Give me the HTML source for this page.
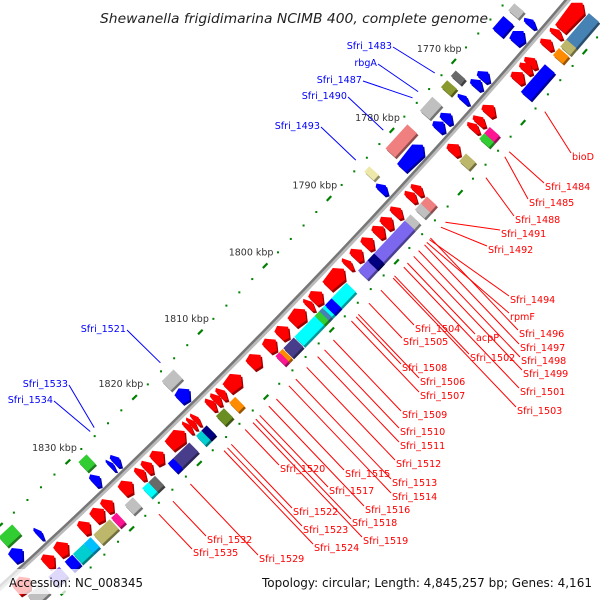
<!DOCTYPE html>
<html><head><meta charset="utf-8"><style>
html,body{margin:0;padding:0;background:#fff;width:600px;height:600px;overflow:hidden;}
svg{display:block;overflow:hidden;}
text{font-family:"DejaVu Sans","Liberation Sans",sans-serif;}
</style></head><body>
<svg id="map" width="600" height="600" viewBox="0 0 600 600" xmlns="http://www.w3.org/2000/svg">
<defs><clipPath id="frame"><rect x="0" y="0" width="600" height="600"/></clipPath></defs>
<g clip-path="url(#frame)">
<g id="rings"></g>
<g id="genes"></g>
<g id="backbone"></g>
<g id="ticklabels"></g>
<g id="labels"></g>
<text x="488" y="23" text-anchor="end" font-size="13" font-style="italic" fill="#222" textLength="388" lengthAdjust="spacingAndGlyphs">Shewanella frigidimarina NCIMB 400, complete genome</text>
<rect x="0" y="569" width="600" height="25" fill="#fff" opacity="0.75"/>
<text x="9" y="587" font-size="12" fill="#111" textLength="134" lengthAdjust="spacingAndGlyphs">Accession: NC_008345</text>
<text x="262" y="587" font-size="12" fill="#111" textLength="330" lengthAdjust="spacingAndGlyphs">Topology: circular; Length: 4,845,257 bp; Genes: 4,161</text>
</g>
</svg>
<script>
// ---- data ----
const tickKbp = [1770,1780,1790,1800,1810,1820,1830];
const tickLabels = ["1770 kbp","1780 kbp","1790 kbp","1800 kbp","1810 kbp","1820 kbp","1830 kbp"];
const redInStart = [1756.2,1760.0,1761.4,1764.0,1764.8,1766.0,1770.7,1772.4,1773.4,1776.3,1782.3,1783.3,1785.5,1786.9,1788.2,1789.9,1791.6,1793.3,1794.4,1797.8,1799.3,1800.4,1803.0,1804.9,1807.2,1810.2,1812.6,1813.4,1814.2,1816.6,1817.2,1817.8,1818.7,1821.9,1823.6,1824.7,1826.5,1829.4,1830.7,1832.8,1836.0,1838.0,1841.5];
const redInEnd   = [1759.9,1760.8,1762.4,1765.0,1765.8,1767.2,1771.9,1773.3,1774.2,1777.5,1783.2,1784.2,1786.5,1788.1,1789.4,1791.1,1792.8,1794.0,1797.0,1799.2,1800.0,1802.4,1804.4,1806.3,1808.8,1812.3,1813.4,1814.2,1815.0,1817.2,1817.8,1818.4,1821.0,1823.3,1824.6,1825.6,1828.0,1830.6,1832.2,1834.0,1837.5,1839.3,1843.5];
const redOutStart = [1756.6,1760.3,1761.5,1763.8,1772.7,1773.6,1776.5,1782.7,1783.7,1785.3,1786.2,1791.0,1795.3,1797.6,1799.0,1799.5,1800.2,1803.4,1805.1,1805.6,1812.3,1814.0,1816.6,1817.4,1819.2,1821.6,1824.3,1825.3,1827.6,1830.0,1831.0,1833.8,1834.8,1836.5,1838.4,1841.0];
const redOutEnd   = [1760.4,1761.3,1762.5,1767.7,1773.6,1774.4,1777.6,1783.7,1784.6,1786.2,1793.5,1792.0,1799.0,1798.6,1799.6,1800.2,1803.3,1805.0,1805.6,1806.2,1813.2,1815.2,1817.4,1818.2,1821.6,1822.4,1825.3,1826.2,1828.8,1830.8,1833.4,1834.8,1836.4,1837.6,1840.0,1843.0];
const redOutColor = ["#4682b4","#bdb76b","#ff8c00","#0000ff","#ff1493","#32cd32","#bdb76b","#f08080","#c0c0c0","#c0c0c0","#7b68ee","#000080","#00ffff","#0000ff","#4682b4","#32cd32","#00ffff","#483d8b","#ff8c00","#ff1493","#ff8c00","#6b8e23","#000080","#00ced1","#483d8b","#0000ff","#696969","#00ffff","#c0c0c0","#ff1493","#bdb76b","#00bfff","#00ced1","#0000ff","#7b68ee","#c0c0c0"];
const blueInStart = [1761.0,1762.6,1768.4,1769.6,1771.9,1774.4,1775.6,1778.9,1784.8,1815.2,1825.7,1826.6,1828.6,1837.2,1840.0];
const blueInEnd   = [1761.8,1764.2,1769.5,1770.6,1772.6,1775.5,1776.7,1782.3,1785.7,1816.8,1826.5,1827.1,1829.6,1837.8,1841.5];
const blueOutStart = [1761.0,1762.8,1770.6,1772.0,1774.4,1778.4,1784.5,1814.9,1828.0,1839.0];
const blueOutEnd   = [1762.0,1764.6,1771.4,1773.0,1776.4,1781.9,1785.3,1816.7,1829.2,1841.0];
const blueOutColor = ["#c0c0c0","#0000ff","#696969","#8b9a2f","#c0c0c0","#f08080","#eee8aa","#c0c0c0","#32cd32","#32cd32"];
const redLabelText = ["bioD","Sfri_1484","Sfri_1485","Sfri_1488","Sfri_1491","Sfri_1492","Sfri_1494","rpmF","Sfri_1496","Sfri_1497","Sfri_1498","Sfri_1499","acpP","Sfri_1501","Sfri_1502","Sfri_1503","Sfri_1504","Sfri_1505","Sfri_1506","Sfri_1507","Sfri_1508","Sfri_1509","Sfri_1510","Sfri_1511","Sfri_1512","Sfri_1513","Sfri_1514","Sfri_1515","Sfri_1516","Sfri_1517","Sfri_1518","Sfri_1519","Sfri_1520","Sfri_1522","Sfri_1523","Sfri_1524","Sfri_1529","Sfri_1532","Sfri_1535"];
const redLabelKbp = [1767.6,1773.3,1774.0,1777.0,1783.4,1784.1,1785.9,1786.3,null,null,null,null,null,null,null,null,null,null,null,null,null,null,null,null,null,null,null,null,null,null,null,null,null,null,null,null,null,null,null];
const redLabelX = [572,545,529,515,501,488,510,510,519,520,521,523,476,520,470,517,415,403,420,420,402,402,400,400,396,392,392,345,365,329,352,363,280,293,303,314,259,207,193];
const redLabelY = [156,186,202,219,233,249,299,316,333,347,360,373,337,391,357,410,328,341,381,395,367,414,431,445,463,482,496,473,509,490,522,540,468,511,529,547,558,539,552];
const blueLabelText = ["Sfri_1483","rbgA","Sfri_1487","Sfri_1490","Sfri_1493","Sfri_1521","Sfri_1533","Sfri_1534"];
const blueLabelKbp = [1772.3,1775.0,1775.9,1780.6,1785.0,1815.4,1825.4,1826.0];
const blueLabelX = [392,377,362,347,320,126,68,53];
const blueLabelY = [45,62,79,95,125,328,383,399];

// ---- geometry ----
const R0=6500, CX=-4382.6, CY=-4213;
function ang(k){return (41.47+(k-1770)*0.0823)*Math.PI/180;}
function P(k,dr){const a=ang(k), r=R0+dr; return [CX+r*Math.cos(a), CY+r*Math.sin(a)];}
function rad(x,y){return Math.hypot(x-CX,y-CY);}
const NS="http://www.w3.org/2000/svg";
function mk(tag,parent,attrs){const e=document.createElementNS(NS,tag);for(const k in attrs)e.setAttribute(k,attrs[k]);parent.appendChild(e);return e;}
function ptsStr(a){return a.map(p=>p[0].toFixed(1)+","+p[1].toFixed(1)).join(" ");}
function darker(c){const n=parseInt(c.slice(1),16);let r=(n>>16)&255,g=(n>>8)&255,b=n&255;return "rgb("+Math.round(r*0.6)+","+Math.round(g*0.6)+","+Math.round(b*0.6)+")";}
function arrowPts(a,b,r1,r2){const h=Math.min(0.75,(b-a)*0.6);const m=(r1+r2)/2;const ext=2;
  return [P(a+h,r2+ext),P(b,r2),P(b,r1),P(a+h,r1-ext),P(a,m)];}
function boxPts(a,b,r1,r2){return [P(a,r1),P(a,r2),P(b,r2),P(b,r1)];}
function drawGene(pts,color,name){
  const gg=document.getElementById('genes');
  const sh=mk('polygon',gg,{points:ptsStr(pts.map(p=>[p[0]+1.5,p[1]+2])),fill:darker(color)});
  
  
  const pg=mk('polygon',gg,{points:ptsStr(pts),fill:color});
  
  
}
const rg=document.getElementById('rings');
[-45.5,47].forEach(dr=>{
  for(let k=1754;k<=1846;k+=2){
    if(k%10===0){const p1=P(k-0.35,dr),p2=P(k+0.35,dr);
      const l=mk('line',rg,{x1:p1[0],y1:p1[1],x2:p2[0],y2:p2[1],stroke:"#008000","stroke-width":2.2});
      
      
    } else {const p=P(k,dr);
      const d=mk('rect',rg,{x:p[0]-1,y:p[1]-1,width:2,height:2,fill:"#008000"});
      
      
    }
  }
});
for(let i=0;i<redOutStart.length;i++) drawGene(boxPts(redOutStart[i],redOutEnd[i],25,38),redOutColor[i],'cog-box-reverse');
for(let i=0;i<blueOutStart.length;i++) drawGene(boxPts(blueOutStart[i],blueOutEnd[i],-25,-38),blueOutColor[i],'cog-box-forward');
for(let i=0;i<redInStart.length;i++) drawGene(arrowPts(redInStart[i],redInEnd[i],7,20),"#ff0000",'gene-reverse');
for(let i=0;i<blueInStart.length;i++) drawGene(arrowPts(blueInStart[i],blueInEnd[i],-19,-7),"#0000ff",'gene-forward');
const bb=document.getElementById('backbone');
let d1="",d2="";
for(let k=1753;k<=1847;k+=2){const p=P(k,0.5),q=P(k,-1);d1+=(k===1753?"M":"L")+p[0].toFixed(1)+","+p[1].toFixed(1);d2+=(k===1753?"M":"L")+q[0].toFixed(1)+","+q[1].toFixed(1);}
const b1=mk('path',bb,{d:d1,fill:"none",stroke:"#bbbbbb","stroke-width":5});


const b2=mk('path',bb,{d:d2,fill:"none",stroke:"#777777","stroke-width":2.5});


const tl=document.getElementById('ticklabels');
for(let i=0;i<tickKbp.length;i++){const p=P(tickKbp[i],-65);
  const t=mk('text',tl,{x:p[0].toFixed(1),y:(p[1]+3.5).toFixed(1),"text-anchor":"middle","font-size":"9.5",fill:"#333"});
  t.textContent=tickLabels[i];
  
  
}
const lg=document.getElementById('labels');
for(let i=0;i<redLabelText.length;i++){
  const ex=redLabelX[i]-1, ey=redLabelY[i]-3;
  let s;
  if(redLabelKbp[i]!==null){s=P(redLabelKbp[i],56);}
  else{const dx=-1/Math.hypot(1,1.05),dy=-1.05/Math.hypot(1,1.05);let t=0,x=ex,y=ey;
    while(rad(x,y)>R0+56&&t<600){t+=1;x=ex+dx*t;y=ey+dy*t;} s=[x,y];}
  const l=mk('line',lg,{x1:s[0].toFixed(1),y1:s[1].toFixed(1),x2:ex,y2:ey,stroke:"#ff0000","stroke-width":1});
  
  
  const t=mk('text',lg,{x:redLabelX[i],y:redLabelY[i]+4,"font-size":"9.6",fill:"#ff0000"});
  t.textContent=redLabelText[i];
  
  
}
for(let i=0;i<blueLabelText.length;i++){
  const s=P(blueLabelKbp[i],-52);
  const ex=blueLabelX[i]+1, ey=blueLabelY[i]+2;
  const l=mk('line',lg,{x1:ex,y1:ey,x2:s[0].toFixed(1),y2:s[1].toFixed(1),stroke:"#0000ff","stroke-width":1});
  
  
  const t=mk('text',lg,{x:blueLabelX[i],y:blueLabelY[i]+4,"text-anchor":"end","font-size":"9.6",fill:"#0000ff"});
  t.textContent=blueLabelText[i];
  
  
}
</script>
</body></html>
